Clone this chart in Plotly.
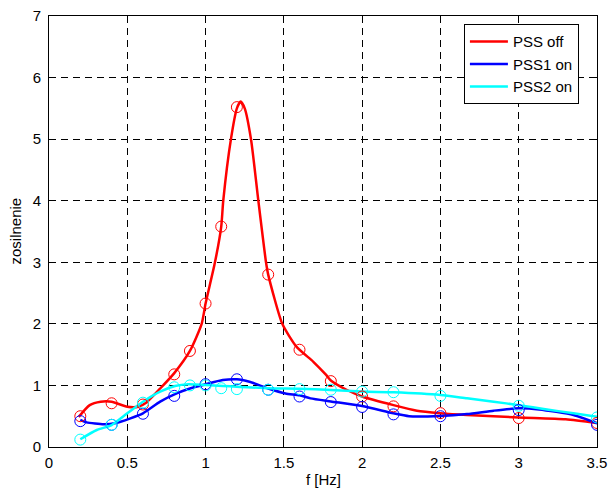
import plotly.graph_objects as go

# curve data
red_line_x = [0.19, 0.26, 0.33, 0.40, 0.50, 0.57, 0.62, 0.71, 0.80, 0.90, 0.975, 1.00, 1.06, 1.10, 1.113, 1.162, 1.20, 1.224, 1.25, 1.29, 1.337, 1.386, 1.40, 1.49, 1.58, 1.69, 1.77, 1.80, 1.90, 2.0, 2.2, 2.35, 2.5, 2.67, 3.0, 3.3, 3.5]
red_line_y = [0.49, 0.68, 0.735, 0.735, 0.655, 0.655, 0.72, 0.95, 1.2, 1.56, 2.0, 2.33, 3.0, 3.58, 4.0, 5.0, 5.5, 5.61, 5.5, 5.0, 4.0, 3.0, 2.8, 2.0, 1.63, 1.38, 1.17, 1.08, 0.93, 0.82, 0.68, 0.59, 0.55, 0.52, 0.48, 0.45, 0.39]

blue_line_x = [0.2, 0.24, 0.35, 0.42, 0.52, 0.60, 0.71, 0.815, 0.90, 1.0, 1.11, 1.20, 1.28, 1.40, 1.51, 1.60, 1.67, 1.80, 2.0, 2.2, 2.3, 2.5, 2.67, 2.84, 3.0, 3.13, 3.35, 3.5]
blue_line_y = [0.44, 0.40, 0.37, 0.385, 0.466, 0.547, 0.736, 0.87, 0.95, 1.02, 1.088, 1.10, 1.06, 0.95, 0.87, 0.84, 0.79, 0.74, 0.666, 0.547, 0.50, 0.505, 0.536, 0.59, 0.628, 0.61, 0.52, 0.385]

cyan_line_x = [0.2, 0.305, 0.40, 0.50, 0.60, 0.71, 0.805, 0.89, 1.0, 1.11, 1.2, 1.4, 1.6, 1.8, 2.0, 2.2, 2.5, 2.67, 2.84, 3.0, 3.18, 3.35, 3.5]
cyan_line_y = [0.125, 0.276, 0.357, 0.547, 0.736, 0.9, 0.99, 1.02, 1.007, 0.99, 0.98, 0.953, 0.945, 0.926, 0.9, 0.888, 0.845, 0.79, 0.736, 0.68, 0.61, 0.547, 0.49]

# measured points (circles)
red_pts_x = [0.2, 0.4, 0.6, 0.8, 0.9, 1.0, 1.1, 1.2, 1.4, 1.6, 1.8, 2.0, 2.2, 2.5, 3.0, 3.5]
red_pts_y = [0.5, 0.71, 0.69, 1.18, 1.56, 2.33, 3.58, 5.52, 2.8, 1.58, 1.07, 0.82, 0.66, 0.55, 0.47, 0.39]

blue_pts_x = [0.2, 0.4, 0.6, 0.8, 1.0, 1.2, 1.4, 1.6, 1.8, 2.0, 2.2, 2.5, 3.0, 3.5]
blue_pts_y = [0.42, 0.36, 0.54, 0.83, 1.02, 1.10, 0.93, 0.82, 0.73, 0.65, 0.53, 0.50, 0.60, 0.36]

cyan_pts_x = [0.2, 0.4, 0.6, 0.8, 0.9, 1.0, 1.1, 1.2, 1.4, 1.6, 1.8, 2.0, 2.2, 2.5, 3.0, 3.5]
cyan_pts_y = [0.12, 0.36, 0.72, 0.97, 1.0, 1.0, 0.955, 0.94, 0.93, 0.94, 0.93, 0.90, 0.89, 0.83, 0.67, 0.48]

names = ["PSS off", "PSS1 on", "PSS2 on"]
colors = ["#ff0000", "#0000ff", "#00ffff"]
x_title = "f [Hz]"
y_title = "zosilnenie"

FONT = "Liberation Sans, Arial, sans-serif"
FS = 15

fig = go.Figure()
lines = [(red_line_x, red_line_y), (blue_line_x, blue_line_y), (cyan_line_x, cyan_line_y)]
pts = [(red_pts_x, red_pts_y), (blue_pts_x, blue_pts_y), (cyan_pts_x, cyan_pts_y)]

for (lx, ly), name, col in zip(lines, names, colors):
    fig.add_trace(go.Scatter(x=lx, y=ly, mode="lines", name=name,
                             line=dict(color=col, width=2.5, shape="spline", smoothing=0.6)))
for (px, py), name, col in zip(pts, names, colors):
    fig.add_trace(go.Scatter(x=px, y=py, mode="markers", showlegend=False,
                             marker=dict(symbol="circle-open", size=11, color=col,
                                         line=dict(width=1, color=col))))

axis_common = dict(showline=True, linecolor="black", linewidth=1, mirror="ticks",
                   ticks="inside", ticklen=5, tickcolor="black", automargin=False,
                   ticklabeloverflow="allow",
                   showgrid=True, gridcolor="black", gridwidth=1, griddash="7px,5px",
                   zeroline=False, tickfont=dict(family=FONT, size=FS, color="black"))

fig.update_xaxes(range=[0, 3.5], dtick=0.5, tick0=0, ticklabelstandoff=2, **axis_common)
fig.update_yaxes(range=[0, 7], dtick=1, tick0=0, ticklabelstandoff=4, **axis_common)

fig.add_annotation(text=x_title, xref="paper", yref="paper", x=0.5, y=0,
                   xanchor="center", yanchor="middle", yshift=-32, showarrow=False,
                   font=dict(family=FONT, size=FS, color="black"))
fig.add_annotation(text=y_title, xref="paper", yref="paper", x=0, y=0.5,
                   xanchor="center", yanchor="middle", xshift=-34, textangle=-90,
                   showarrow=False, font=dict(family=FONT, size=FS, color="black"))

fig.update_layout(
    width=608, height=490,
    margin=dict(l=49, r=11, t=16, b=43),
    plot_bgcolor="white", paper_bgcolor="white",
    font=dict(family=FONT, size=FS, color="black"),
    legend=dict(x=0.967, y=0.981, xanchor="right", yanchor="top",
                bgcolor="white", bordercolor="black", borderwidth=1,
                font=dict(family=FONT, size=FS, color="black"),
                tracegroupgap=0, itemwidth=38),
)

# remove the default 8px page margin so the figure fills the window exactly
fig.write_html("out.html", config={"displayModeBar": False},
               post_script="document.body.style.margin='0px';")
